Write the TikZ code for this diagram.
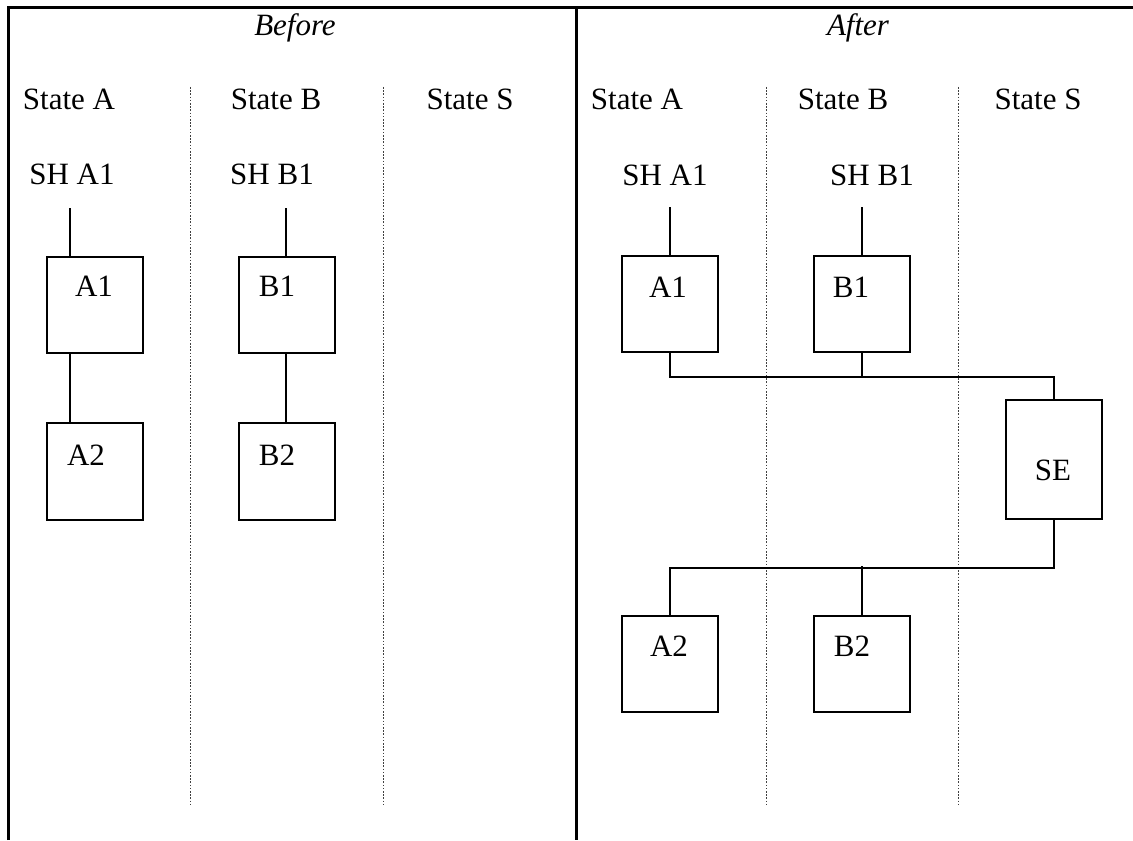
\documentclass[tikz,border=0pt]{standalone}
\usepackage{fontspec}
\setmainfont{Liberation Serif}
\usetikzlibrary{positioning}

\begin{document}
\begin{tikzpicture}[x=0.5pt, y=-0.5pt,
  every node/.style={font=\fontsize{15.5}{18}\selectfont, inner sep=0pt},
  box/.style={draw, line width=1pt, minimum width=48pt, minimum height=48pt},
  frame/.style={line width=1.5pt},
  lane/.style={black!75, line width=0.5pt, dash pattern=on 0.8pt off 0.8pt},
  wire/.style={line width=1pt}]
  \useasboundingbox (0,0) rectangle (1133,840);

  % table frame
  \draw[frame] (8,840) -- (8,8) -- (1133,8);
  \draw[frame] (576,8) -- (576,840);
  \foreach \x in {190,383,766,958}
    \draw[lane] (\x,87) -- (\x,805);

  % headings
  \node (before) at (295,28) {\itshape Before};
  \node (after) at (858,28) {\itshape After};
  \node (stAl) at (69,99) {State A};
  \node (stBl) at (276,99) {State B};
  \node (stSl) at (470,99) {State S};
  \node (stAr) at (637,99) {State A};
  \node (stBr) at (843,99) {State B};
  \node (stSr) at (1038,99) {State S};

  % before
  \node (shAl) at (72,174) {SH A1};
  \node (shBl) at (272,174) {SH B1};
  \node[box] (A1l) at (95,305) {};
  \node[box, minimum height=48.5pt] (A2l) at (95,471.5) {};
  \node[box] (B1l) at (287,305) {};
  \node[box, minimum height=48.5pt] (B2l) at (287,471.5) {};
  \node at (94,286) {A1};
  \node at (86,455) {A2};
  \node at (277,286) {B1};
  \node at (277,455) {B2};
  \coordinate (shAl-end) at (70,208);
  \coordinate (shBl-end) at (286,208);
  \draw[wire] (shAl-end) -- (shAl-end |- A1l.north);
  \draw[wire] (shAl-end |- A1l.south) -- (shAl-end |- A2l.north);
  \draw[wire] (shBl-end) -- (shBl-end |- B1l.north);
  \draw[wire] (shBl-end |- B1l.south) -- (shBl-end |- B2l.north);

  % after
  \node (shAr) at (665,175) {SH A1};
  \node (shBr) at (872,175) {SH B1};
  \node[box] (A1r) at (670,304) {};
  \node[box] (B1r) at (862,304) {};
  \node[box, minimum height=59.5pt] (SE) at (1054,459.5) {};
  \node[box] (A2r) at (670,664) {};
  \node[box] (B2r) at (862,664) {};
  \node at (668,287) {A1};
  \node at (851,287) {B1};
  \node at (1053,470) {SE};
  \node at (669,646) {A2};
  \node at (852,646) {B2};
  \draw[wire] (A1r.north) -- ++(0,-48);
  \draw[wire] (B1r.north) -- ++(0,-48);
  \draw[wire] (A1r.south) -- ++(0,24) -| (SE.north);
  \draw[wire] (B1r.south) -- ++(0,24);
  \draw[wire] (SE.south) -- ++(0,48) -| (A2r.north);
  \draw[wire] (B2r.north) -- ++(0,-49);
\end{tikzpicture}
\end{document}
